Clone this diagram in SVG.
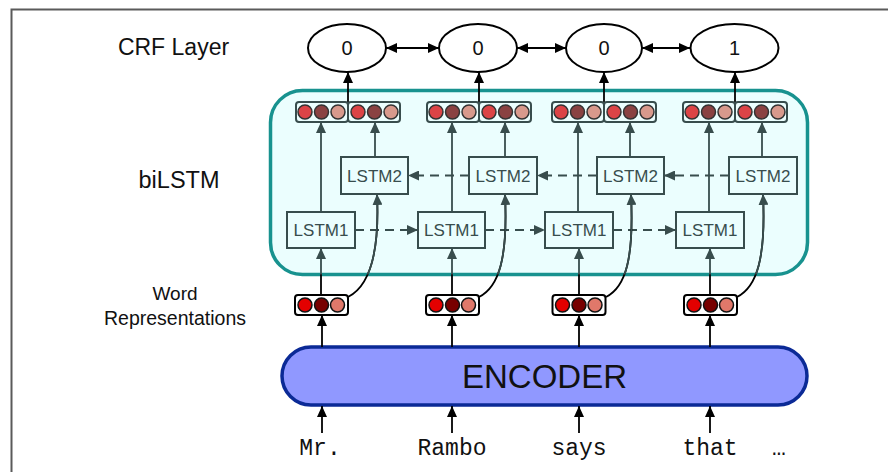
<svg xmlns="http://www.w3.org/2000/svg" width="888" height="472" viewBox="0 0 888 472">
<defs>
<style>
.lbl{font-family:"Liberation Sans",Arial,sans-serif;fill:#111;text-anchor:middle}
.crf{fill:#fff;stroke:#000;stroke-width:2}
.num{font-family:"Liberation Sans",Arial,sans-serif;font-size:20px;fill:#111;text-anchor:middle}
.lstm{fill:#ebfefe;stroke:#384d4d;stroke-width:2}
.lt{font-family:"Liberation Sans",Arial,sans-serif;font-size:17px;fill:#384d4d;text-anchor:middle}
.obox{fill:#ebfefe;stroke:#384d4d;stroke-width:2}
.wbox{fill:#fff;stroke:#000;stroke-width:2}
.o1{fill:#dc4446;stroke:#333;stroke-width:1.5}
.o2{fill:#8a4242;stroke:#333;stroke-width:1.5}
.o3{fill:#d8998c;stroke:#333;stroke-width:1.5}
.w1{fill:#e30000;stroke:#111;stroke-width:1.5}
.w2{fill:#780000;stroke:#111;stroke-width:1.5}
.w3{fill:#e0786a;stroke:#111;stroke-width:1.5}
.blk{stroke:#000;stroke-width:1.8;fill:none}
.sl{stroke:#384d4d;stroke-width:1.8;fill:none}
.dash{stroke:#384d4d;stroke-width:1.8;fill:none;stroke-dasharray:9 6}
.word{font-family:"Liberation Mono","Courier New",monospace;font-size:23px;fill:#111;text-anchor:middle}
</style>
<marker id="ab" markerUnits="userSpaceOnUse" markerWidth="12" markerHeight="10" refX="11" refY="5" orient="auto-start-reverse"><path d="M0,0 L11,5 L0,10 z" fill="#000"/></marker>
<marker id="as" markerUnits="userSpaceOnUse" markerWidth="12" markerHeight="10" refX="11" refY="5" orient="auto-start-reverse"><path d="M0,0 L11,5 L0,10 z" fill="#384d4d"/></marker>
<clipPath id="inbox"><rect x="270.5" y="90.5" width="537" height="184" rx="32"/></clipPath>
</defs>
<rect width="888" height="472" fill="#fff"/>
<path d="M11.5,472 L11.5,9.5 L888,9.5" fill="none" stroke="#5a5a5a" stroke-width="2"/>

<g id="labels">
<text class="lbl" x="173.5" y="55" font-size="23">CRF Layer</text>
<text class="lbl" x="179" y="188" font-size="23.5">biLSTM</text>
<text class="lbl" x="175" y="300" font-size="19">Word</text>
<text class="lbl" x="175" y="325" font-size="19.5">Representations</text>
</g>

<g id="bilstm"><rect x="270.5" y="90.5" width="537" height="184" rx="32" fill="#ebfefe" stroke="#18928f" stroke-width="3.5"/></g>

<g id="encoder">
<rect x="282" y="347" width="525" height="58" rx="29" fill="#9098ff" stroke="#0b2a96" stroke-width="3.5"/>
<text class="lbl" x="544.5" y="388" font-size="33">ENCODER</text>
</g>

<g id="crf1"><ellipse class="crf" cx="347" cy="48" rx="39" ry="24"/><text class="num" x="347" y="55">0</text></g>
<g id="crf2"><ellipse class="crf" cx="478" cy="48" rx="39" ry="24"/><text class="num" x="478" y="55">0</text></g>
<g id="crf3"><ellipse class="crf" cx="604" cy="48" rx="38" ry="24"/><text class="num" x="604" y="55">0</text></g>
<g id="crf4"><ellipse class="crf" cx="734.5" cy="48" rx="44" ry="24"/><text class="num" x="734.5" y="55">1</text></g>

<g id="connectors">
<line class="blk" x1="386" y1="48" x2="439" y2="48" marker-start="url(#ab)" marker-end="url(#ab)"/>
<line class="blk" x1="517" y1="48" x2="566" y2="48" marker-start="url(#ab)" marker-end="url(#ab)"/>
<line class="blk" x1="642" y1="48" x2="690" y2="48" marker-start="url(#ab)" marker-end="url(#ab)"/>
<line class="blk" x1="348" y1="102" x2="348" y2="72" marker-end="url(#ab)"/>
<line class="blk" x1="479" y1="102" x2="479" y2="72" marker-end="url(#ab)"/>
<line class="blk" x1="604" y1="102" x2="604" y2="72" marker-end="url(#ab)"/>
<line class="blk" x1="735" y1="102" x2="735" y2="72" marker-end="url(#ab)"/>

<line class="sl" x1="321" y1="212" x2="321" y2="122" marker-end="url(#as)"/>
<line class="sl" x1="452" y1="212" x2="452" y2="122" marker-end="url(#as)"/>
<line class="sl" x1="578" y1="212" x2="578" y2="122" marker-end="url(#as)"/>
<line class="sl" x1="709" y1="212" x2="709" y2="122" marker-end="url(#as)"/>
<line class="sl" x1="375" y1="157" x2="375" y2="122" marker-end="url(#as)"/>
<line class="sl" x1="505" y1="157" x2="505" y2="122" marker-end="url(#as)"/>
<line class="sl" x1="630" y1="157" x2="630" y2="122" marker-end="url(#as)"/>
<line class="sl" x1="762" y1="157" x2="762" y2="122" marker-end="url(#as)"/>

<line class="dash" x1="355" y1="230" x2="418" y2="230" marker-end="url(#as)"/>
<line class="dash" x1="485" y1="230" x2="545" y2="230" marker-end="url(#as)"/>
<line class="dash" x1="613" y1="230" x2="676" y2="230" marker-end="url(#as)"/>
<line class="dash" x1="469" y1="175.5" x2="408" y2="175.5" marker-end="url(#as)"/>
<line class="dash" x1="597" y1="175.5" x2="537" y2="175.5" marker-end="url(#as)"/>
<line class="dash" x1="729" y1="175.5" x2="664" y2="175.5" marker-end="url(#as)"/>

<g id="wr-up-outside">
<line class="blk" x1="321" y1="295" x2="321" y2="274"/>
<line class="blk" x1="452" y1="295" x2="452" y2="274"/>
<line class="blk" x1="579" y1="295" x2="579" y2="274"/>
<line class="blk" x1="710" y1="295" x2="710" y2="274"/>
<path class="blk" d="M348,297 C368,287 380,258 377,194"/>
<path class="blk" d="M479,297 C499,287 508,258 505,194"/>
<path class="blk" d="M606,297 C626,287 634,258 631,194"/>
<path class="blk" d="M737,297 C757,287 766,258 763,194"/>
</g>
<g id="wr-up-inside" clip-path="url(#inbox)">
<line class="sl" x1="321" y1="295" x2="321" y2="248" marker-end="url(#as)"/>
<line class="sl" x1="452" y1="295" x2="452" y2="248" marker-end="url(#as)"/>
<line class="sl" x1="579" y1="295" x2="579" y2="248" marker-end="url(#as)"/>
<line class="sl" x1="710" y1="295" x2="710" y2="248" marker-end="url(#as)"/>
<path class="sl" d="M348,297 C368,287 380,258 377,194" marker-end="url(#as)"/>
<path class="sl" d="M479,297 C499,287 508,258 505,194" marker-end="url(#as)"/>
<path class="sl" d="M606,297 C626,287 634,258 631,194" marker-end="url(#as)"/>
<path class="sl" d="M737,297 C757,287 766,258 763,194" marker-end="url(#as)"/>
</g>

<line class="blk" x1="322" y1="347" x2="322" y2="315" marker-end="url(#ab)"/>
<line class="blk" x1="452" y1="347" x2="452" y2="315" marker-end="url(#ab)"/>
<line class="blk" x1="579" y1="347" x2="579" y2="315" marker-end="url(#ab)"/>
<line class="blk" x1="710" y1="347" x2="710" y2="315" marker-end="url(#ab)"/>

<line class="blk" x1="322" y1="433" x2="322" y2="406" marker-end="url(#ab)"/>
<line class="blk" x1="452" y1="433" x2="452" y2="406" marker-end="url(#ab)"/>
<line class="blk" x1="579" y1="433" x2="579" y2="406" marker-end="url(#ab)"/>
<line class="blk" x1="710" y1="433" x2="710" y2="406" marker-end="url(#ab)"/>
</g>

<g id="out1">
<rect class="obox" x="296" y="102" width="52" height="20" rx="3"/><rect class="obox" x="348" y="102" width="52" height="20" rx="3"/>
<circle class="o1" cx="305" cy="112" r="7"/><circle class="o2" cx="321.5" cy="112" r="7"/><circle class="o3" cx="338" cy="112" r="7"/>
<circle class="o1" cx="358" cy="112" r="7"/><circle class="o2" cx="374.5" cy="112" r="7"/><circle class="o3" cx="391" cy="112" r="7"/>
</g>
<g id="out2">
<rect class="obox" x="427" y="102" width="52" height="20" rx="3"/><rect class="obox" x="479" y="102" width="52" height="20" rx="3"/>
<circle class="o1" cx="436" cy="112" r="7"/><circle class="o2" cx="452.5" cy="112" r="7"/><circle class="o3" cx="469" cy="112" r="7"/>
<circle class="o1" cx="489" cy="112" r="7"/><circle class="o2" cx="505.5" cy="112" r="7"/><circle class="o3" cx="522" cy="112" r="7"/>
</g>
<g id="out3">
<rect class="obox" x="552" y="102" width="52" height="20" rx="3"/><rect class="obox" x="604" y="102" width="52" height="20" rx="3"/>
<circle class="o1" cx="561" cy="112" r="7"/><circle class="o2" cx="577.5" cy="112" r="7"/><circle class="o3" cx="594" cy="112" r="7"/>
<circle class="o1" cx="614" cy="112" r="7"/><circle class="o2" cx="630.5" cy="112" r="7"/><circle class="o3" cx="647" cy="112" r="7"/>
</g>
<g id="out4">
<rect class="obox" x="683" y="102" width="52" height="20" rx="3"/><rect class="obox" x="735" y="102" width="52" height="20" rx="3"/>
<circle class="o1" cx="692" cy="112" r="7"/><circle class="o2" cx="708.5" cy="112" r="7"/><circle class="o3" cx="725" cy="112" r="7"/>
<circle class="o1" cx="745" cy="112" r="7"/><circle class="o2" cx="761.5" cy="112" r="7"/><circle class="o3" cx="778" cy="112" r="7"/>
</g>

<g id="lstm2-1"><rect class="lstm" x="341" y="157" width="67" height="37"/><text class="lt" x="374.5" y="181.5">LSTM2</text></g>
<g id="lstm2-2"><rect class="lstm" x="469" y="157" width="68" height="37"/><text class="lt" x="503" y="181.5">LSTM2</text></g>
<g id="lstm2-3"><rect class="lstm" x="597" y="157" width="67" height="37"/><text class="lt" x="630.5" y="181.5">LSTM2</text></g>
<g id="lstm2-4"><rect class="lstm" x="729" y="157" width="68" height="37"/><text class="lt" x="763" y="181.5">LSTM2</text></g>

<g id="lstm1-1"><rect class="lstm" x="287" y="212" width="68" height="36"/><text class="lt" x="321" y="236">LSTM1</text></g>
<g id="lstm1-2"><rect class="lstm" x="418" y="212" width="67" height="36"/><text class="lt" x="451.5" y="236">LSTM1</text></g>
<g id="lstm1-3"><rect class="lstm" x="545" y="212" width="68" height="36"/><text class="lt" x="579" y="236">LSTM1</text></g>
<g id="lstm1-4"><rect class="lstm" x="676" y="212" width="68" height="36"/><text class="lt" x="710" y="236">LSTM1</text></g>

<g id="wr1"><rect class="wbox" x="295" y="295" width="53" height="20" rx="3"/>
<circle class="w1" cx="305" cy="305" r="7"/><circle class="w2" cx="321.5" cy="305" r="7"/><circle class="w3" cx="337.5" cy="305" r="7"/></g>
<g id="wr2"><rect class="wbox" x="426" y="295" width="53" height="20" rx="3"/>
<circle class="w1" cx="436" cy="305" r="7"/><circle class="w2" cx="452.5" cy="305" r="7"/><circle class="w3" cx="468.5" cy="305" r="7"/></g>
<g id="wr3"><rect class="wbox" x="552.5" y="295" width="53" height="20" rx="3"/>
<circle class="w1" cx="562.5" cy="305" r="7"/><circle class="w2" cx="579" cy="305" r="7"/><circle class="w3" cx="595" cy="305" r="7"/></g>
<g id="wr4"><rect class="wbox" x="684" y="295" width="53" height="20" rx="3"/>
<circle class="w1" cx="694" cy="305" r="7"/><circle class="w2" cx="710.5" cy="305" r="7"/><circle class="w3" cx="726.5" cy="305" r="7"/></g>

<g id="words">
<text class="word" x="320" y="455">Mr.</text>
<text class="word" x="452" y="455">Rambo</text>
<text class="word" x="579" y="455">says</text>
<text class="word" x="710" y="455">that</text>
<text class="word" x="779" y="455">…</text>
</g>
</svg>
